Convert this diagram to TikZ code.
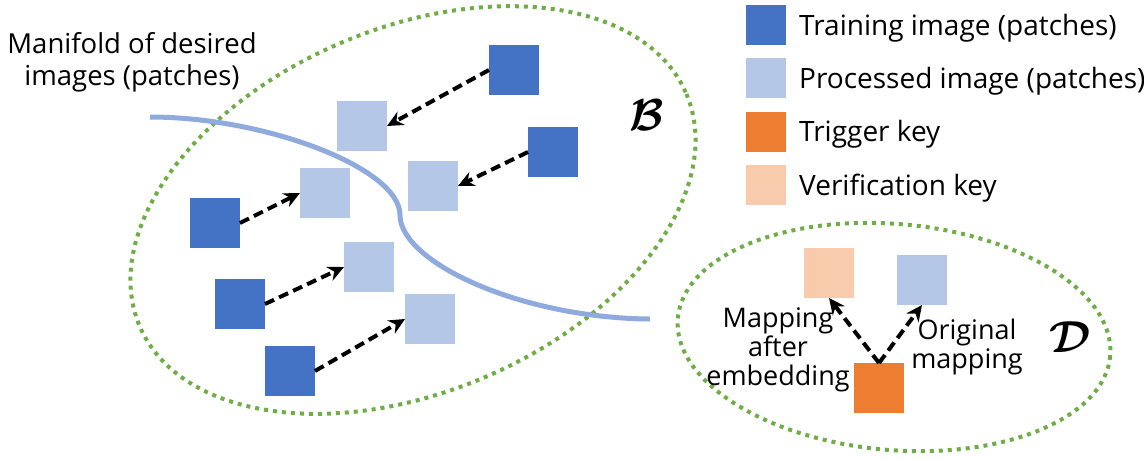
\documentclass[tikz,border=0pt]{standalone}
\usepackage{amsmath}
\usepackage{graphicx}
\usepackage{fontspec}
\setmainfont{Open Sans}
\usetikzlibrary{arrows.meta}
\definecolor{trainblue}{HTML}{4472C4}
\definecolor{procblue}{HTML}{B4C7E7}
\definecolor{trigorange}{HTML}{ED7D31}
\definecolor{veripeach}{HTML}{F8CBAD}
\definecolor{setgreen}{HTML}{70AD47}
\definecolor{manblue}{HTML}{8FAADC}

\begin{document}
\begin{tikzpicture}[x=1pt, y=-1pt,
  patch/.style={minimum size=50pt, inner sep=0pt, outer sep=0pt},
  train/.style={patch, fill=trainblue},
  proc/.style={patch, fill=procblue},
  trig/.style={patch, fill=trigorange},
  veri/.style={patch, fill=veripeach},
  keybox/.style={minimum size=40pt, inner sep=0pt},
  map/.style={-{Stealth[length=16pt,width=15pt]}, line width=4pt, dash pattern=on 10pt off 5.5pt},
  setline/.style={draw=setgreen, line width=4pt, dash pattern=on 4pt off 5pt},
  lbl/.style={font=\fontsize{27}{29}\selectfont, align=center, inner sep=0pt},
  legtext/.style={font=\fontsize{28}{30}\selectfont, anchor=base west, inner sep=0pt},
  setname/.style={font=\fontsize{24.88}{25}\selectfont}]
\useasboundingbox (0,0) rectangle (1144,459);

% the two sets
\draw[setline] (413,210) ellipse [x radius=297, y radius=182, rotate=23];
\draw[setline] (894,337) ellipse [x radius=217, y radius=113, rotate=-5];
\node[setname] (nameB) at (647,115) {\scalebox{1.8}{$\boldsymbol{\mathcal{B}}$}};
\node[setname] (nameD) at (1070,337) {\scalebox{1.8}{$\boldsymbol{\mathcal{D}}$}};

% manifold
\draw[manblue, line width=5pt] (150,117) .. controls (265,117) and (400,168) .. (400,215)
  .. controls (400,262) and (520,318) .. (650,319);
\node[lbl, font=\fontsize{27.5}{32}\selectfont] (manifold) at (132,62) {Manifold of desired\\images (patches)};

% patches in B
\node[train] (t1) at (514,70) {};
\node[train] (t2) at (553,152) {};
\node[train] (t3) at (215,223) {};
\node[train] (t4) at (240,304) {};
\node[train] (t5) at (290,371) {};
\node[proc] (p1) at (362,126) {};
\node[proc] (p2) at (433,186) {};
\node[proc] (p3) at (325,193) {};
\node[proc] (p4) at (369,267) {};
\node[proc] (p5) at (430,319) {};
\draw[map] (t1.west) -- (p1.east);
\draw[map] (t2.west) -- (p2.east);
\draw[map] (t3.east) -- (p3.west);
\draw[map] (t4.east) -- (p4.west);
\draw[map] (t5.east) -- (p5.west);

% keys in D
\node[veri] (vk) at (829,273) {};
\node[proc] (po) at (922,280) {};
\node[trig] (tk) at (879,388) {};
\draw[map] (tk.north) -- (vk.south);
\draw[map] (tk.north) -- (po.south);
\node[lbl] (after) at (778,350) {Mapping\\after\\embedding};
\node[lbl] (orig) at (967,347) {Original\\mapping};

% legend
\node[keybox, fill=trainblue] (ktrain) at (766,25) {};
\node[keybox, fill=procblue] (kproc) at (766,78) {};
\node[keybox, fill=trigorange] (ktrig) at (766,132) {};
\node[keybox, fill=veripeach] (kveri) at (766,185) {};
\node[legtext] (ltrain) at (799,35) {Training image (patches)};
\node[legtext] (lproc) at (799,88) {Processed image (patches)};
\node[legtext] (ltrig) at (799,141) {Trigger key};
\node[legtext] (lveri) at (799,195) {Verification key};
\end{tikzpicture}
\end{document}
